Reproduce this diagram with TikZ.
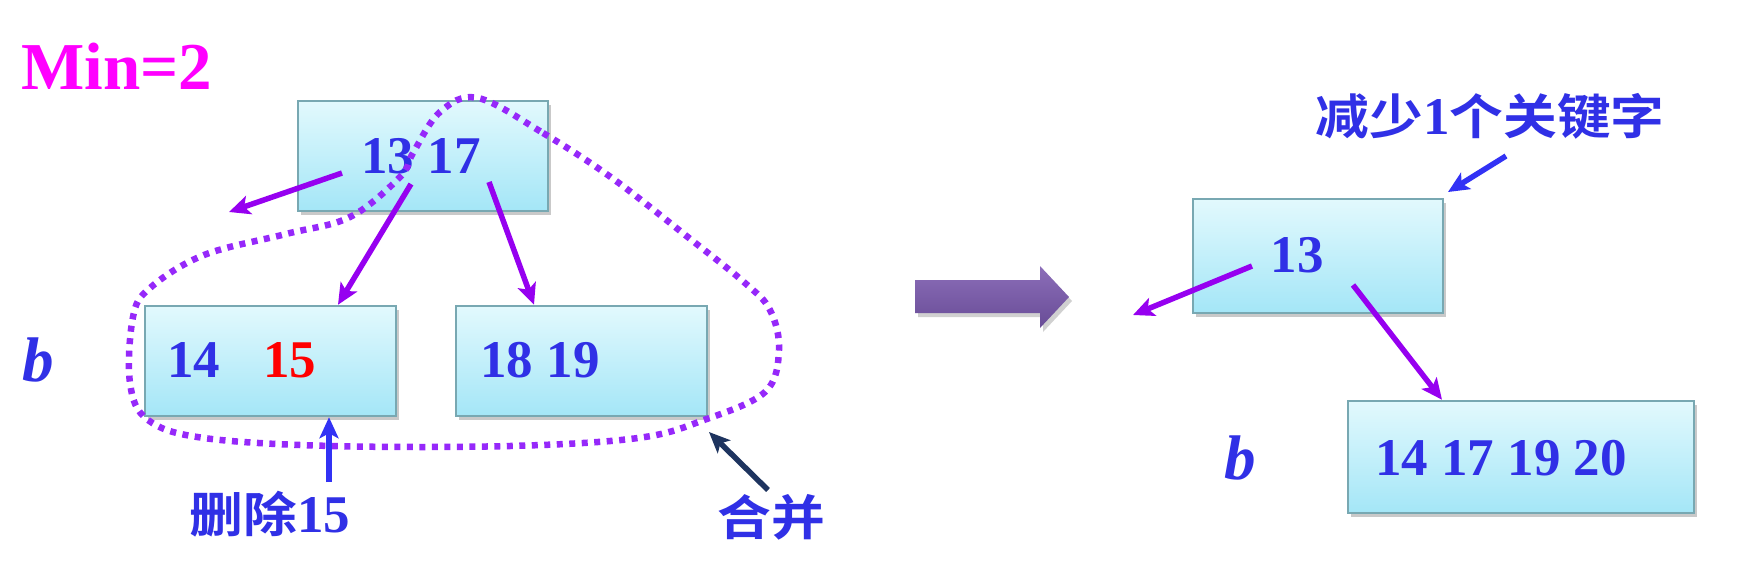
\documentclass[tikz,border=0pt]{standalone}
\usepackage{fontspec}
\setmainfont{Liberation Serif}
\newfontfamily\cjk{Noto Sans CJK SC Bold}
\usetikzlibrary{arrows.meta,shadows}
\definecolor{boxtop}{RGB}{226,249,253}
\definecolor{boxbot}{RGB}{164,230,247}
\definecolor{boxline}{RGB}{120,168,178}
\definecolor{numblue}{RGB}{48,48,230}
\definecolor{ptr}{RGB}{150,0,240}
\definecolor{loopc}{RGB}{150,40,250}
\definecolor{lblue}{RGB}{50,50,245}
\definecolor{navy}{RGB}{30,52,95}
\definecolor{bigtop}{RGB}{140,110,185}
\definecolor{bigbot}{RGB}{104,76,150}
\newcommand{\cjkt}[1]{{\mdseries\scalebox{1.12}[1]{\cjk #1}}}
\tikzset{
  keybox/.style={draw=boxline, line width=2.5pt, top color=boxtop, bottom color=boxbot,
    minimum width=250pt, minimum height=110pt, inner sep=0pt,
    drop shadow={shadow xshift=3pt, shadow yshift=-4pt, opacity=0.35, fill=black!60}},
  num/.style={font=\fontsize{53}{53}\selectfont\bfseries, text=numblue, inner sep=0pt},
  bvar/.style={font=\fontsize{63}{63}\selectfont\bfseries\itshape, text=numblue, inner sep=0pt},
  cjklbl/.style={font=\fontsize{48}{48}\selectfont, text=numblue, inner sep=0pt},
  ptrarrow/.style={draw=ptr, line width=5.5pt, -{Stealth[length=21pt,width=19pt,inset=5pt]}},
  bluearrow/.style={draw=lblue, line width=5.5pt, -{Stealth[length=21pt,width=19pt,inset=5pt]}},
  navyarrow/.style={draw=navy, line width=5.5pt, -{Stealth[length=21pt,width=18pt,inset=5pt]}},
  dotloop/.style={draw=loopc, line width=6.5pt, dash pattern=on 6pt off 6.5pt},
}
\begin{document}
\begin{tikzpicture}[x=1pt,y=-1pt]
\useasboundingbox (0,0) rectangle (1753,579);
\fill[white] (0,0) rectangle (1753,579);

% Min=2
\node[anchor=west, inner sep=0pt, text={rgb,255:red,255;green,0;blue,255},
  font=\fontsize{67}{67}\selectfont\bfseries] (min) at (21,66) {Min=2};

% left tree boxes
\node[keybox] (top) at (423,156) {};
\node[keybox, minimum width=251pt] (lc) at (270.5,361) {};
\node[keybox, minimum width=251pt] (rc) at (581.5,361) {};

\node[num] (t1317) at (421,156) {13 17};
\node[num, anchor=west] (k14) at (167,360) {14};
\node[num, anchor=west, text=red] (k15) at (263,360) {15};
\node[num] (k1819) at (540,360) {18 19};

\node[bvar] (b1) at (38,360) {b};

% dotted loop
\draw[dotloop]
  plot[smooth cycle, tension=0.6] coordinates {
   (478,98) (543,133) (612,178) (689,238) (745,283) (770,310) (779,350)
   (765,392) (704,420) (638,438) (510,446) (332,446) (204,438)
   (148,420) (130,383) (133,317) (150,288) (204,255) (286,234)
   (350,217) (400,177) (413,153) (440,112)};

% pointers from top
\coordinate (p1s) at (342,173);
\coordinate (p1e) at (229,212);
\coordinate (p2s) at (411,184);
\coordinate (p3s) at (489,182);
\draw[ptrarrow] (p1s) -- (p1e);
\draw[ptrarrow] (p2s) -- (lc.north -| 338,0);
\draw[ptrarrow] (p3s) -- (rc.north -| 534,0);

% labels
\coordinate (dels) at (329,482);
\node[cjklbl] (del) at (270,514) {\cjkt{删除}\fontsize{53}{53}\selectfont\bfseries 15};
\draw[bluearrow] (dels) -- (lc.south -| 329,0);

\coordinate (mrgs) at (768,490);
\coordinate (mrge) at (709,432);
\node[cjklbl] (mrg) at (771,517) {\cjkt{合并}};
\draw[navyarrow] (mrgs) -- (mrge);

% big arrow
\shade[top color=bigtop, bottom color=bigbot, drop shadow={shadow xshift=3pt, shadow yshift=-4pt, opacity=0.3, fill=black!60}]
  (915,280) -- (1040,280) -- (1040,266) -- (1069,297) -- (1040,328) -- (1040,313) -- (915,313) -- cycle;

% right tree
\node[keybox, minimum height=114pt] (rtop) at (1318,256) {};
\node[keybox, minimum width=346pt, minimum height=112pt] (rb) at (1521,457) {};
\node[num] (r13) at (1297,255) {13};
\node[num] (rkeys) at (1501,458) {14 17 19 20};
\node[bvar] (b2) at (1240,458) {b};

\coordinate (q1s) at (1252,266);
\coordinate (q1e) at (1133,315);
\coordinate (q2s) at (1353,285);
\draw[ptrarrow] (q1s) -- (q1e);
\draw[ptrarrow] (q2s) -- (rb.north -| 1442,0);

\node[cjklbl] (red) at (1490,116) {\cjkt{减少}{\fontsize{53}{53}\selectfont\bfseries 1}\cjkt{个关键字}};
\coordinate (ls) at (1506,156);
\coordinate (le) at (1448,192);
\draw[bluearrow] (ls) -- (le);
\end{tikzpicture}
\end{document}
